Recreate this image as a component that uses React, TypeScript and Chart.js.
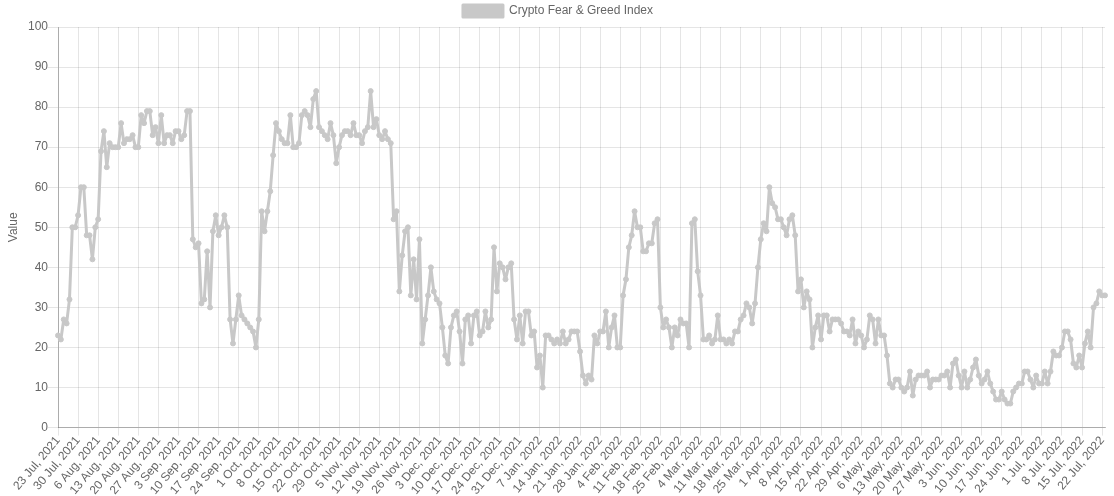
import React, { useEffect, useRef } from 'react';
import { Chart, registerables } from 'chart.js';

Chart.register(...registerables);

const SERIES_LABEL = 'Crypto Fear & Greed Index';
const START_YEAR = 2021;
const START_MONTH = 6; // July (0-based)
const START_DAY = 23;
const MONTH_NAMES = ['Jan', 'Feb', 'Mar', 'Apr', 'May', 'Jun', 'Jul', 'Aug', 'Sep', 'Oct', 'Nov', 'Dec'];
const TICK_EVERY = 7;

const values2021Q3 = [
  23, 22, 27, 26, 32, 50, 50, 53, 60, 60,
  48, 48, 42, 50, 52, 69, 74, 65, 71, 70,
  70, 70, 76, 71, 72, 72, 73, 70, 70, 78,
  76, 79, 79, 73, 75, 71, 78, 71, 73, 73,
  71, 74, 74, 72, 73, 79, 79, 47, 45, 46,
  31, 32, 44, 30, 49, 53, 48, 50, 53, 50,
  27, 21, 27, 33, 28, 27, 26, 25, 24, 20,
];
const values2021Q4 = [
  27, 54, 49, 54, 59, 68, 76, 74, 72, 71,
  71, 78, 70, 70, 71, 78, 79, 78, 75, 82,
  84, 75, 74, 73, 72, 76, 73, 66, 70, 73,
  74, 74, 73, 76, 73, 73, 71, 74, 75, 84,
  75, 77, 73, 72, 74, 72, 71, 52, 54, 34,
  43, 49, 50, 33, 42, 32, 47, 21, 27, 33,
  40, 34, 32, 31, 25, 18, 16, 25, 28, 29,
  24, 16, 27, 28, 21, 28, 29, 23, 24, 29,
  25, 27, 45, 34, 41, 40, 37, 40, 41, 27,
];
const values2022Q1 = [
  22, 28, 21, 29, 29, 23, 24, 15, 18, 10,
  23, 23, 22, 21, 22, 21, 24, 21, 22, 24,
  24, 24, 19, 13, 11, 13, 12, 23, 21, 24,
  24, 29, 20, 25, 28, 20, 20, 33, 37, 45,
  48, 54, 50, 50, 44, 44, 46, 46, 51, 52,
  30, 25, 27, 25, 20, 25, 23, 27, 26, 26,
  20, 51, 52, 39, 33, 22, 22, 23, 21, 22,
  28, 22, 22, 21, 22, 21, 24, 24, 27, 28,
  31, 30, 26, 31, 40, 47, 51, 49, 60, 56,
];
const values2022Q2Q3 = [
  55, 52, 52, 50, 48, 52, 53, 48, 34, 37,
  30, 34, 32, 20, 25, 28, 22, 28, 28, 24,
  27, 27, 27, 26, 24, 24, 23, 27, 21, 24,
  23, 20, 22, 28, 27, 21, 27, 23, 23, 18,
  11, 10, 12, 12, 10, 9, 10, 14, 8, 12,
  13, 13, 13, 14, 10, 12, 12, 12, 13, 13,
  14, 10, 16, 17, 13, 10, 14, 10, 12, 15,
  17, 13, 11, 12, 14, 11, 9, 7, 7, 9,
  7, 6, 6, 9, 10, 11, 11, 14, 14, 12,
  10, 13, 11, 11, 14, 11, 14, 19, 18, 18,
  20, 24, 24, 22, 16, 15, 18, 15, 21, 24,
  20, 30, 31, 34, 33, 33,
];

const values: number[] = [...values2021Q3, ...values2021Q4, ...values2022Q1, ...values2022Q2Q3];

const dateLabels: string[] = values.map((_, i) => {
  const d = new Date(Date.UTC(START_YEAR, START_MONTH, START_DAY + i));
  return `${d.getUTCDate()} ${MONTH_NAMES[d.getUTCMonth()]}, ${d.getUTCFullYear()}`;
});

const FONT_FAMILY = "Arial, 'Liberation Sans', sans-serif";

export default function App() {
  const canvasRef = useRef<HTMLCanvasElement>(null);

  useEffect(() => {
    document.body.style.margin = '0';
    const canvas = canvasRef.current;
    if (!canvas) return;
    const gray = '#c8c8c8';
    const chart = new Chart(canvas, {
      type: 'line',
      data: {
        labels: dateLabels,
        datasets: [
          {
            label: SERIES_LABEL,
            data: values,
            borderColor: gray,
            backgroundColor: gray,
            borderWidth: 3,
            borderJoinStyle: 'round',
            borderCapStyle: 'round',
            pointRadius: 2.5,
            pointBorderWidth: 1,
            pointBackgroundColor: gray,
            pointBorderColor: gray,
            fill: false,
            tension: 0,
          },
        ],
      },
      options: {
        animation: false,
        responsive: false,
        maintainAspectRatio: false,
        layout: { padding: { left: 2, right: 0 } },
        font: { family: FONT_FAMILY, size: 12 },
        color: '#666',
        plugins: {
          legend: {
            labels: {
              padding: 5,
              boxWidth: 40,
              color: '#666',
              font: { family: FONT_FAMILY, size: 12 },
            },
          },
          tooltip: { enabled: false },
        },
        scales: {
          x: {
            ticks: {
              autoSkip: false,
              maxRotation: 50,
              minRotation: 50,
              padding: 0,
              color: '#666',
              font: { family: FONT_FAMILY, size: 12, lineHeight: 0.7 },
              callback: (_v: any, i: number) => (i % TICK_EVERY === 0 ? dateLabels[i] : ''),
            },
            grid: {
              tickLength: 8,
              color: (ctx: any) => (ctx.index % TICK_EVERY === 0 ? 'rgba(0,0,0,0.1)' : 'rgba(0,0,0,0)'),
            },
            border: { color: 'rgba(0,0,0,0.25)' },
            afterFit: (scale: any) => {
              scale.paddingRight = 9;
            },
          },
          y: {
            min: 0,
            max: 100,
            ticks: {
              stepSize: 10,
              padding: 0,
              color: '#666',
              font: { family: FONT_FAMILY, size: 12 },
            },
            grid: { color: 'rgba(0,0,0,0.1)', tickLength: 10 },
            border: { color: 'rgba(0,0,0,0.25)' },
            title: {
              display: true,
              text: 'Value',
              color: '#666',
              font: { family: FONT_FAMILY, size: 12 },
            },
            afterFit: (scale: any) => {
              scale.width = 56;
            },
          },
        },
      },
    });
    return () => chart.destroy();
  }, []);

  return (
    <div style={{ width: 1114, height: 496 }}>
      <canvas ref={canvasRef} width={1114} height={496} style={{ display: 'block' }} />
    </div>
  );
}
